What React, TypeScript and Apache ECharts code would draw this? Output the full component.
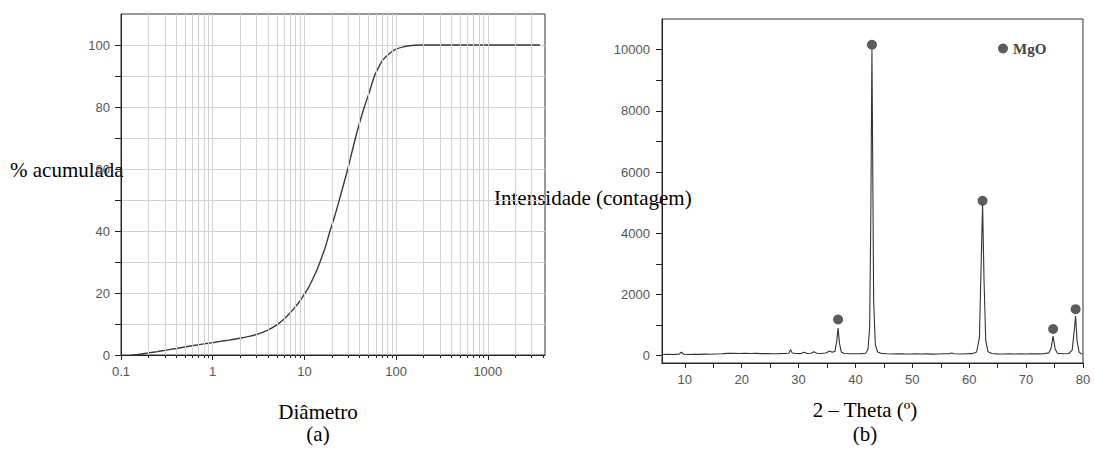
import React, { useEffect, useRef } from "react";
import * as echarts from "echarts";

// ---- Chart (a): cumulative particle size distribution ----
const diameters = [0.13, 0.15, 0.2, 0.25, 0.3, 0.4, 0.5, 0.6, 0.7, 0.8, 1, 1.2, 1.5, 2, 2.5, 3, 3.5, 4, 5, 6, 7, 8, 9, 10, 11, 12, 13.5, 15, 17, 19, 21.5, 24, 27, 30, 33, 36, 40, 45, 50, 58, 65, 70, 80, 90, 100, 120, 140, 160, 200, 300, 500, 1000, 2000, 3700];
const cumulative = [0, 0.1, 0.7, 1.1, 1.5, 2.1, 2.6, 3.0, 3.3, 3.6, 4.0, 4.4, 4.8, 5.4, 6.0, 6.6, 7.3, 8.0, 9.7, 11.6, 13.6, 15.6, 17.5, 19.6, 21.6, 23.8, 27.0, 30.5, 35, 40, 45, 50, 55.5, 60.5, 65.5, 70, 75, 80, 84, 90, 93, 94.8, 96.6, 97.9, 98.7, 99.4, 99.75, 99.9, 100, 100, 100, 100, 100, 100];
const sizeGridLines = [0.2, 0.3, 0.4, 0.5, 0.6, 0.7, 0.8, 0.9, 1, 2, 3, 4, 5, 6, 7, 8, 9, 10, 20, 30, 40, 50, 60, 70, 80, 90, 100, 200, 300, 400, 500, 600, 700, 800, 900, 1000, 2000, 3000];
const sizeMinorTicks = [0.2, 0.3, 0.4, 0.5, 0.6, 0.7, 0.8, 0.9, 2, 3, 4, 5, 6, 7, 8, 9, 20, 30, 40, 50, 60, 70, 80, 90, 200, 300, 400, 500, 600, 700, 800, 900, 2000, 3000, 4000];
const cumulativeLabels = [0, 20, 40, 60, 80, 100];
const cumulativeTicks = [0, 10, 20, 30, 40, 50, 60, 70, 80, 90, 100];

// ---- Chart (b): XRD pattern ----
const theta = [
  6.2, 7, 8, 9, 9.4, 9.8, 10.5, 11.5, 12.5, 13.5, 14.5, 15.5, 16.5, 17.5, 18.5, 19.5, 20.5, 21.5, 22.5, 23.5,
  24.5, 25.5, 26.5, 27.5, 28.3, 28.6, 28.9, 29.5, 30.3, 31.0, 31.5, 32.2, 32.7, 33.2, 34, 34.8, 35.5, 35.9, 36.4, 36.7,
  36.95, 37.2, 37.5, 38, 39, 40, 41, 41.8, 42.2, 42.5, 42.7, 42.9, 43.05, 43.2, 43.5, 43.9, 44.5, 45.5, 46.5, 47.5,
  48.5, 49.5, 50.5, 51.5, 52.5, 53.5, 54.5, 55.5, 56.5, 56.9, 57.3, 58.5, 59.5, 60.5, 61.3, 61.8, 62.1, 62.35, 62.6, 62.9,
  63.3, 64, 65, 66, 67, 68, 69, 70, 71, 72, 73, 74, 74.4, 74.75, 75.1, 75.5, 76.5, 77.5, 78.1, 78.45,
  78.7, 78.95, 79.3, 79.7, 80
];
const counts = [
  40, 45, 38, 50, 110, 45, 40, 48, 42, 50, 45, 55, 60, 75, 80, 72, 78, 70, 74, 66,
  70, 62, 65, 70, 80, 190, 85, 70, 65, 110, 70, 80, 130, 80, 70, 85, 150, 110, 140, 450,
  900, 400, 120, 70, 60, 62, 65, 80, 200, 900, 4500, 10000, 6000, 1800, 350, 120, 75, 60, 55, 62,
  58, 55, 60, 52, 58, 50, 55, 60, 62, 90, 60, 55, 60, 65, 120, 600, 3000, 4950, 2500, 500,
  130, 70, 58, 55, 60, 52, 58, 55, 60, 58, 62, 90, 250, 640, 220, 80, 60, 70, 180, 800,
  1290, 500, 120, 60, 55
];
const peakTheta = [36.95, 42.9, 62.35, 74.75, 78.7];
const peakMarker = [1180, 10160, 5060, 870, 1520];
const thetaLabels = [10, 20, 30, 40, 50, 60, 70, 80];
const thetaTicks = [10, 15, 20, 25, 30, 35, 40, 45, 50, 55, 60, 65, 70, 75, 80];
const countLabels = [0, 2000, 4000, 6000, 8000, 10000];
const countTicks = [0, 1000, 2000, 3000, 4000, 5000, 6000, 7000, 8000, 9000, 10000];

const SANS = "Liberation Sans";
const SERIF = "Liberation Serif";
const LABEL_COLOR = "#555";
const AXIS_COLOR = "#222";

export default function App() {
  const ref = useRef<HTMLDivElement>(null);

  useEffect(() => {
    document.body.style.margin = "0";
    document.body.style.overflow = "hidden";
    if (!ref.current) return;
    const chart = echarts.init(ref.current, undefined, { renderer: "svg" });

    const option: any = {
      animation: false,
      backgroundColor: "#fff",
      grid: [
        { left: 121, top: 14, width: 424, height: 341, show: true, borderColor: "#333", borderWidth: 1, backgroundColor: "transparent" },
        { left: 662, top: 19, width: 421, height: 344, show: true, borderColor: "#333", borderWidth: 1, backgroundColor: "transparent" },
      ],
      legend: {
        left: 993,
        top: 36,
        itemWidth: 10,
        itemHeight: 10,
        itemGap: 5,
        icon: "circle",
        data: ["MgO"],
        textStyle: { fontFamily: SERIF, fontWeight: "bold", fontSize: 15, color: "#444" },
      },
      xAxis: [
        {
          type: "log",
          gridIndex: 0,
          min: 0.1,
          max: 4200,
          logBase: 10,
          position: "bottom",
          axisLine: { show: true, lineStyle: { color: AXIS_COLOR, width: 1 } },
          axisTick: { show: true, inside: false, length: 5, lineStyle: { color: AXIS_COLOR } },
          axisLabel: {
            show: true,
            margin: 10,
            showMaxLabel: false,
            fontFamily: SANS,
            fontSize: 13,
            color: LABEL_COLOR,
            formatter: (v: number) => (v < 1 ? v.toFixed(1) : String(Math.round(v))),
          },
          splitLine: { show: false },
        },
        {
          type: "log",
          gridIndex: 0,
          min: 0.1,
          max: 4200,
          logBase: 10,
          position: "bottom",
          axisLine: { show: false },
          axisTick: { show: true, inside: false, length: 3, customValues: sizeMinorTicks, lineStyle: { color: AXIS_COLOR } },
          axisLabel: { show: false },
          splitLine: { show: false },
        },
        {
          type: "value",
          gridIndex: 1,
          min: 6,
          max: 80,
          position: "bottom",
          axisLine: { show: true, onZero: false, lineStyle: { color: AXIS_COLOR, width: 1 } },
          axisTick: { show: true, inside: false, length: 5, customValues: thetaTicks, lineStyle: { color: AXIS_COLOR } },
          axisLabel: { show: true, margin: 10, customValues: thetaLabels, fontFamily: SANS, fontSize: 13, color: LABEL_COLOR, formatter: (v: number) => String(v) },
          splitLine: { show: false },
        },
      ],
      yAxis: [
        {
          type: "value",
          gridIndex: 0,
          min: 0,
          max: 110,
          interval: 20,
          axisLine: { show: true, lineStyle: { color: AXIS_COLOR, width: 1 } },
          axisTick: { show: true, inside: false, length: 6, customValues: cumulativeTicks, lineStyle: { color: AXIS_COLOR } },
          axisLabel: { show: true, margin: 11, customValues: cumulativeLabels, fontFamily: SANS, fontSize: 13, color: LABEL_COLOR, formatter: (v: number) => String(v) },
          splitLine: { show: true, lineStyle: { color: "#d2d2d2", width: 1 } },
        },
        {
          type: "value",
          gridIndex: 1,
          min: -240,
          max: 11000,
          axisLine: { show: true, lineStyle: { color: AXIS_COLOR, width: 1 } },
          axisTick: { show: true, inside: false, length: 6, customValues: countTicks, lineStyle: { color: AXIS_COLOR } },
          axisLabel: { show: true, margin: 12, customValues: countLabels, fontFamily: SANS, fontSize: 13, color: LABEL_COLOR, formatter: (v: number) => String(v) },
          splitLine: { show: false },
        },
      ],
      series: [
        {
          type: "line",
          name: "grid",
          xAxisIndex: 0,
          yAxisIndex: 0,
          data: [],
          z: 1,
          silent: true,
          markLine: {
            silent: true,
            symbol: ["none", "none"],
            label: { show: false },
            lineStyle: { color: "#d2d2d2", width: 1, type: "solid" },
            emphasis: { disabled: true },
            data: sizeGridLines.map((v) => ({ xAxis: v })),
          },
        },
        {
          type: "line",
          name: "cumulative",
          xAxisIndex: 0,
          yAxisIndex: 0,
          data: diameters.map((d, i) => [d, cumulative[i]]),
          smooth: 0.2,
          showSymbol: false,
          symbol: "none",
          z: 3,
          lineStyle: { color: "#3a3a3a", width: 1.4 },
        },
        {
          type: "line",
          name: "XRD",
          xAxisIndex: 2,
          yAxisIndex: 1,
          data: theta.map((t, i) => [t, counts[i]]),
          showSymbol: false,
          symbol: "none",
          z: 3,
          lineStyle: { color: "#333", width: 1.1 },
        },
        {
          type: "scatter",
          name: "MgO",
          xAxisIndex: 2,
          yAxisIndex: 1,
          data: peakTheta.map((t, i) => [t, peakMarker[i]]),
          symbol: "circle",
          symbolSize: 10,
          z: 4,
          itemStyle: { color: "#333" },
        },
      ],
      graphic: [
        { type: "text", x: 10, y: 170, style: { text: "% acumulada", font: `21px "${SERIF}"`, fill: "#000", align: "left", verticalAlign: "middle" } },
        { type: "text", x: 318, y: 412, style: { text: "Diâmetro", font: `21px "${SERIF}"`, fill: "#000", align: "center", verticalAlign: "middle" } },
        { type: "text", x: 318, y: 434, style: { text: "(a)", font: `21px "${SERIF}"`, fill: "#000", align: "center", verticalAlign: "middle" } },
        { type: "text", x: 494, y: 198, style: { text: "Intensidade (contagem)", font: `21px "${SERIF}"`, fill: "#000", align: "left", verticalAlign: "middle" } },
        { type: "text", x: 865, y: 410, style: { text: "2 – Theta (º)", font: `21px "${SERIF}"`, fill: "#000", align: "center", verticalAlign: "middle" } },
        { type: "text", x: 865, y: 434, style: { text: "(b)", font: `21px "${SERIF}"`, fill: "#000", align: "center", verticalAlign: "middle" } },
      ],
    };

    chart.setOption(option);
    return () => chart.dispose();
  }, []);

  return <div ref={ref} style={{ width: 1094, height: 452 }} />;
}
